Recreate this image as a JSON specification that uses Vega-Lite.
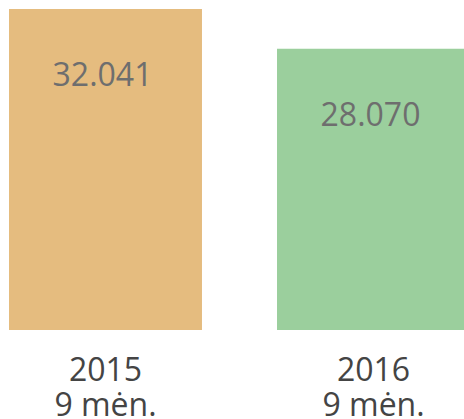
{
  "$schema": "https://vega.github.io/schema/vega-lite/v6.json",
  "width": 479,
  "height": 321,
  "autosize": "none",
  "padding": {"left": 0, "top": 9, "right": 0, "bottom": 89},
  "background": "white",
  "config": {"view": {"stroke": null}},
  "data": {"values": [
    {"year": "2015", "value": 32041, "label": "32.041"},
    {"year": "2016", "value": 28070, "label": "28.070"}
  ]},
  "encoding": {
    "x": {
      "field": "year", "type": "nominal", "title": null,
      "scale": {"paddingInner": 0.28, "paddingOuter": 0.0336},
      "axis": {
        "ticks": false, "domain": false, "grid": false, "labelAngle": 0,
        "labelPadding": 50, "labelBaseline": "alphabetic",
        "labelExpr": "[datum.value, '9 mėn.']",
        "labelFont": "Open Sans", "labelFontSize": 32, "labelColor": "#444444",
        "labelLineHeight": 35
      }
    },
    "y": {
      "field": "value", "type": "quantitative", "title": null,
      "scale": {"domain": [0, 32041], "nice": false},
      "axis": null
    }
  },
  "layer": [
    {
      "mark": {"type": "bar"},
      "encoding": {
        "color": {
          "field": "year", "type": "nominal", "legend": null,
          "scale": {"domain": ["2015", "2016"], "range": ["#E5BC7F", "#9BCF9D"]}
        }
      }
    },
    {
      "mark": {
        "type": "text", "baseline": "alphabetic", "dy": 77, "dx": -3,
        "font": "Open Sans", "fontSize": 32, "color": "#6E6E6E",
        "letterSpacing": 1.5
      },
      "encoding": {"text": {"field": "label"}}
    }
  ]
}
